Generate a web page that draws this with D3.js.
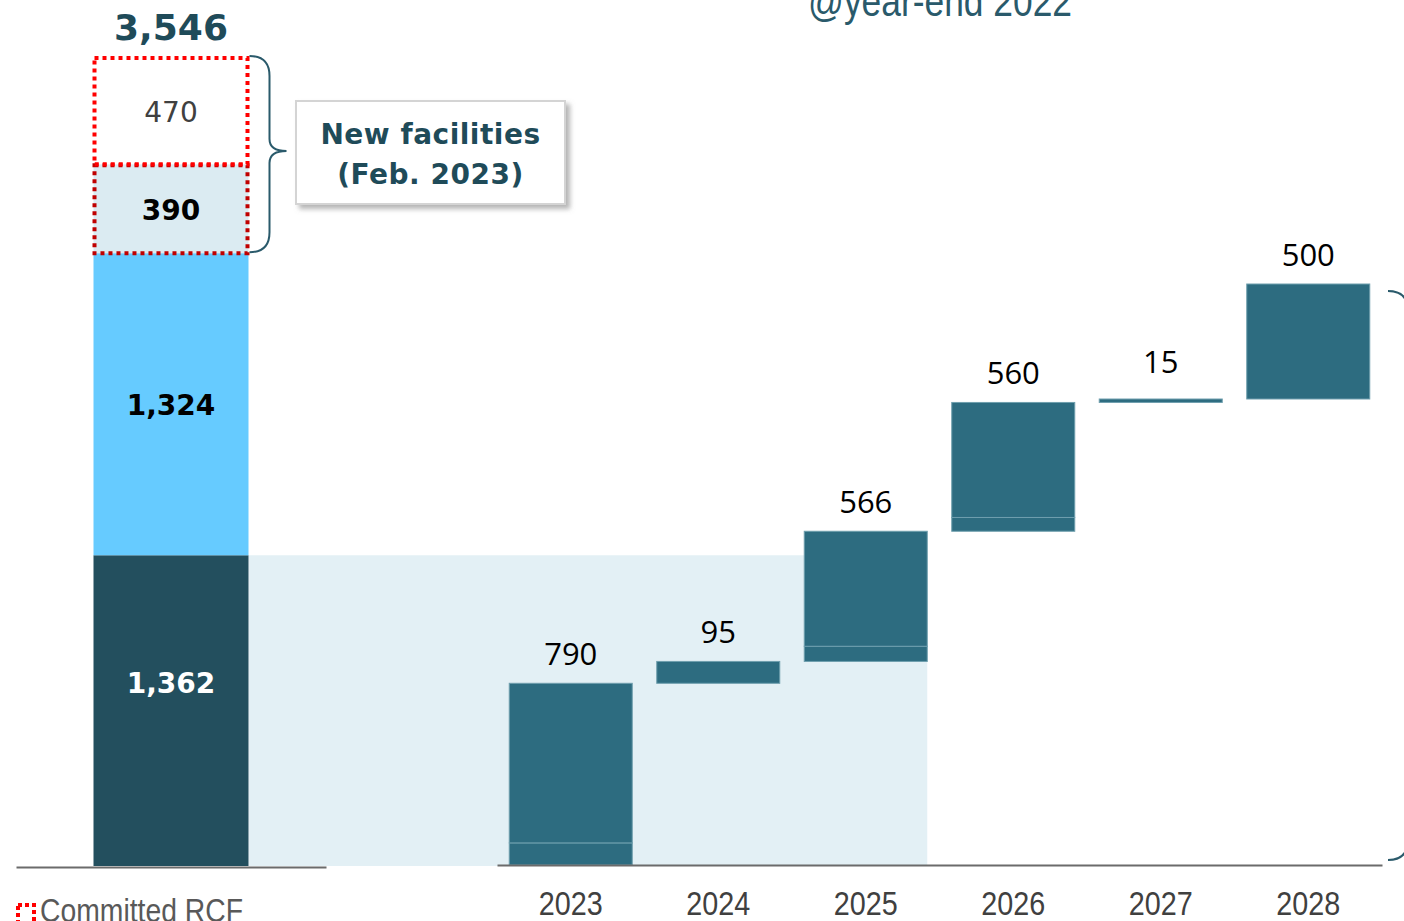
<!DOCTYPE html>
<html>
<head>
<meta charset="utf-8">
<script src="https://cdn.jsdelivr.net/npm/d3@7"></script>
<style>
  body { margin: 0; background: #fff; }
  svg { display: block; }
</style>
</head>
<body>
<script>
// committed RCF stack (bottom to top)
var rcfValues = [1362, 1324, 390, 470];
var rcfLabels = ['1,362', '1,324', '390', '470'];
var rcfTotalLabel = '3,546';

// debt maturities
var years = ['2023', '2024', '2025', '2026', '2027', '2028'];
var maturities = [790, 95, 566, 560, 15, 500];
var maturitySplit = [[96, 694], [95], [66, 500], [60, 500], [15], [500]];

var W = 1404, H = 921;
var svg = d3.select('body').append('svg').attr('width', W).attr('height', H);

var defs = svg.append('defs');
defs.append('filter').attr('id', 'shadow')
  .attr('x', '-10%').attr('y', '-10%').attr('width', '130%').attr('height', '140%')
  .append('feDropShadow')
    .attr('dx', 4).attr('dy', 4).attr('stdDeviation', 2.5)
    .attr('flood-color', '#777').attr('flood-opacity', 0.55);

var total = d3.sum(rcfValues);
var yL = d3.scaleLinear().domain([0, total]).range([866, 57]);
var yW = d3.scaleLinear().domain([0, d3.sum(maturities)]).range([865, 284]);

var xL = d3.scaleBand().domain(['RCF']).range([16, 326]).padding(1 / 3);
var x = d3.scaleBand().domain(years).range([497, 1382])
  .paddingInner(0.166).paddingOuter(0.083);

var narrow = 'Liberation Sans, Arial, sans-serif';

// light blue band = drawn level carried across
svg.append('rect')
  .attr('x', xL('RCF') + xL.bandwidth())
  .attr('y', yL(rcfValues[0]))
  .attr('width', x('2025') + x.bandwidth() - xL('RCF') - xL.bandwidth())
  .attr('height', yL(0) - yL(rcfValues[0]))
  .attr('fill', '#e3f0f5');

// stacked RCF bar
var cum = 0;
var rcfStack = rcfValues.map(function (v, i) {
  var s = { v: v, y0: cum, y1: cum + v, label: rcfLabels[i], i: i };
  cum += v;
  return s;
});
var rcfFill = ['#234f5e', '#66cbff', '#dbebf2', '#ffffff'];
var rcfText = ['#ffffff', '#000000', '#000000', '#404040'];
var rcfWeight = ['bold', 'bold', 'bold', 'normal'];

svg.selectAll('rect.rcf')
  .data(rcfStack)
  .enter().append('rect')
    .attr('class', 'rcf')
    .attr('x', xL('RCF'))
    .attr('width', xL.bandwidth())
    .attr('y', function (d) { return yL(d.y1); })
    .attr('height', function (d) { return yL(d.y0) - yL(d.y1); })
    .attr('fill', function (d, i) { return rcfFill[i]; });

// dotted boxes round the new facilities
svg.selectAll('rect.dots')
  .data(rcfStack.slice(2))
  .enter().append('rect')
    .attr('class', 'dots')
    .attr('x', xL('RCF') + 1)
    .attr('width', xL.bandwidth() - 2)
    .attr('y', function (d) { return yL(d.y1) + 1; })
    .attr('height', function (d) { return yL(d.y0) - yL(d.y1) - 1; })
    .attr('fill', 'none')
    .attr('stroke', function (d, i) { return i === 0 ? '#c00000' : '#ff0000'; })
    .attr('stroke-width', 4)
    .attr('stroke-dasharray', '4,4');

svg.selectAll('text.rcf')
  .data(rcfStack)
  .enter().append('text')
    .attr('class', 'rcf')
    .attr('x', xL('RCF') + xL.bandwidth() / 2)
    .attr('y', function (d, i) { return (yL(d.y0) + yL(d.y1)) / 2 + 11 - (i === 0 ? 29 : 0); })
    .attr('text-anchor', 'middle')
    .attr('font-family', 'DejaVu Sans, Verdana, sans-serif')
    .attr('font-size', 28)
    .attr('font-weight', function (d, i) { return rcfWeight[i]; })
    .attr('fill', function (d, i) { return rcfText[i]; })
    .text(function (d) { return d.label; });

svg.append('text')
  .attr('x', xL('RCF') + xL.bandwidth() / 2)
  .attr('y', yL(total) - 17)
  .attr('text-anchor', 'middle')
  .attr('font-family', 'DejaVu Sans, Verdana, sans-serif')
  .attr('font-size', 36)
  .attr('font-weight', 'bold')
  .attr('fill', '#1f4b59')
  .text(rcfTotalLabel);

// brace for new facilities
var bx = xL('RCF') + xL.bandwidth() + 1;
var bTop = yL(total) - 1, bBot = yL(rcfValues[0] + rcfValues[1]) - 1;
var bMid = (bTop + bBot) / 2 - 3;
svg.append('path')
  .attr('d', 'M' + bx + ',' + bTop + ' Q' + (bx + 20) + ',' + bTop + ' ' + (bx + 20) + ',' + (bTop + 20) +
    ' L' + (bx + 20) + ',' + (bMid - 12) + ' Q' + (bx + 20) + ',' + bMid + ' ' + (bx + 37) + ',' + bMid +
    ' Q' + (bx + 20) + ',' + bMid + ' ' + (bx + 20) + ',' + (bMid + 12) +
    ' L' + (bx + 20) + ',' + (bBot - 20) + ' Q' + (bx + 20) + ',' + bBot + ' ' + bx + ',' + bBot)
  .attr('fill', 'none')
  .attr('stroke', '#2a5a6b')
  .attr('stroke-width', 2);

// callout box
var note = svg.append('g').attr('transform', 'translate(296,101)');
note.append('rect')
  .attr('width', 269).attr('height', 103)
  .attr('fill', '#fff')
  .attr('stroke', '#d4d4d4')
  .attr('stroke-width', 2)
  .attr('filter', 'url(#shadow)');
note.selectAll('text')
  .data(['New facilities', '(Feb. 2023)'])
  .enter().append('text')
    .attr('x', 134.5)
    .attr('y', function (d, i) { return 43 + i * 40; })
    .attr('text-anchor', 'middle')
    .attr('font-family', 'DejaVu Sans, Verdana, sans-serif')
    .attr('font-size', 28)
    .attr('font-weight', 'bold')
    .attr('letter-spacing', 0.5)
    .attr('fill', '#1f4b59')
    .text(function (d) { return d; });

// waterfall bars
var base = 0;
var wf = years.map(function (yr, i) {
  var start = base;
  var segs = [];
  var c = start;
  maturitySplit[i].forEach(function (v) {
    segs.push({ year: yr, y0: c, y1: c + v });
    c += v;
  });
  base += maturities[i];
  return { year: yr, start: start, end: base, value: maturities[i], segs: segs };
});

var segData = [];
wf.forEach(function (d) { segData = segData.concat(d.segs); });

svg.selectAll('rect.seg')
  .data(segData)
  .enter().append('rect')
    .attr('class', 'seg')
    .attr('x', function (d) { return x(d.year); })
    .attr('width', x.bandwidth())
    .attr('y', function (d) { return yW(d.y1); })
    .attr('height', function (d) { return yW(d.y0) - yW(d.y1); })
    .attr('fill', '#2d6c80')
    .attr('stroke', '#6f9fae')
    .attr('stroke-width', 1);

svg.selectAll('text.val')
  .data(wf)
  .enter().append('text')
    .attr('class', 'val')
    .attr('x', function (d) { return x(d.year) + x.bandwidth() / 2; })
    .attr('y', function (d) { return yW(d.end) - (d.value < 50 ? 26 : 18); })
    .attr('text-anchor', 'middle')
    .attr('font-family', 'Open Sans, Noto Sans, sans-serif')
    .attr('font-size', 31)
    .attr('fill', '#000')
    .text(function (d) { return d.value; });

// axes
var xAxis = d3.axisBottom(x).tickSize(0).tickSizeOuter(0);
var gx = svg.append('g')
  .attr('transform', 'translate(0,865)')
  .call(xAxis);
gx.select('.domain').attr('stroke', '#6b6b6b').attr('stroke-width', 2);
gx.selectAll('text')
  .attr('y', 50).attr('dy', 0)
  .attr('font-family', narrow)
  .attr('font-size', 34)
  .attr('textLength', 64)
  .attr('lengthAdjust', 'spacingAndGlyphs')
  .attr('fill', '#404040');

var gl = svg.append('g')
  .attr('transform', 'translate(0,867)')
  .call(d3.axisBottom(xL).tickSize(0).tickSizeOuter(0).tickFormat(''));
gl.select('.domain').attr('stroke', '#6b6b6b').attr('stroke-width', 2);

// right brace (runs off the edge)
var rTop = yW(d3.sum(maturities)) + 7, rBot = 860, rx = 1388;
var rMid = (rTop + rBot) / 2;
svg.append('path')
  .attr('d', 'M' + rx + ',' + rTop + ' Q' + (rx + 20) + ',' + rTop + ' ' + (rx + 20) + ',' + (rTop + 20) +
    ' L' + (rx + 20) + ',' + (rMid - 12) + ' Q' + (rx + 20) + ',' + rMid + ' ' + (rx + 37) + ',' + rMid +
    ' Q' + (rx + 20) + ',' + rMid + ' ' + (rx + 20) + ',' + (rMid + 12) +
    ' L' + (rx + 20) + ',' + (rBot - 20) + ' Q' + (rx + 20) + ',' + rBot + ' ' + rx + ',' + rBot)
  .attr('fill', 'none')
  .attr('stroke', '#2a5a6b')
  .attr('stroke-width', 2);

// title (cut by the top edge)
svg.append('text')
  .attr('x', 808)
  .attr('y', 16)
  .attr('font-family', narrow)
  .attr('font-size', 42)
  .attr('textLength', 264)
  .attr('lengthAdjust', 'spacingAndGlyphs')
  .attr('fill', '#2a5a6b')
  .text('@year-end 2022');

// legend
svg.append('rect')
  .attr('x', 18).attr('y', 905).attr('width', 16).attr('height', 18)
  .attr('fill', 'none')
  .attr('stroke', '#ff0000')
  .attr('stroke-width', 4)
  .attr('stroke-dasharray', '4,3');
svg.append('text')
  .attr('x', 40)
  .attr('y', 922)
  .attr('font-family', narrow)
  .attr('font-size', 33)
  .attr('textLength', 203)
  .attr('lengthAdjust', 'spacingAndGlyphs')
  .attr('fill', '#595959')
  .text('Committed RCF');
</script>
</body>
</html>
